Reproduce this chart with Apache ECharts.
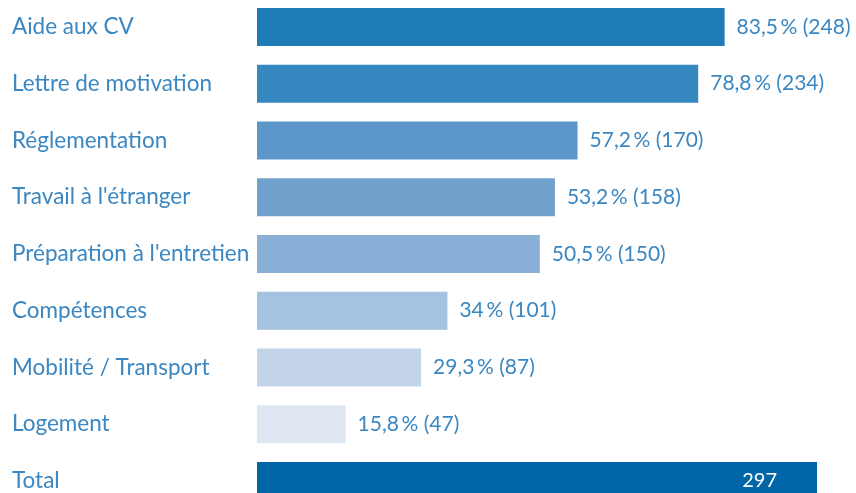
<!DOCTYPE html>
<html><head><meta charset="utf-8">
<script src="https://cdn.jsdelivr.net/npm/echarts@6/dist/echarts.min.js"></script>
<style>html,body{margin:0;padding:0;background:#fff}#c{width:856px;height:493px}</style>
</head><body><div id="c"></div>
<script>
const categories = ["Aide aux CV","Lettre de motivation","Réglementation","Travail à l'étranger","Préparation à l'entretien","Compétences","Mobilité / Transport","Logement","Total"];
const counts = [248,234,170,158,150,101,87,47,297];
const percents = ["83,5","78,8","57,2","53,2","50,5","34","29,3","15,8",null];
const colors = ["#1f7bb8","#3688c1","#5b98c9","#70a1cd","#8bb0d7","#a6c2e1","#c3d3e9","#dee7f1","#0066a8"];

const chart = echarts.init(document.getElementById('c'));
const FONT = 'Lato';
const data = counts.map((v,i)=>{
  const isTotal = percents[i] === null;
  return {
    value: v,
    itemStyle: {color: colors[i]},
    label: isTotal ? {show:true, position:'insideRight', distance:40, color:'#fff', fontSize:20, formatter: String(v)} :
      {show:true, position:'right', distance:12, color:'#3a87c2', fontSize:21, formatter: percents[i] + '\u2009% (' + v + ')'}
  };
});
chart.setOption({
  animation:false,
  grid:{left:257, right:39, top:-1.4, bottom:-16.35, containLabel:false, outerBoundsMode:'none'},
  xAxis:{type:'value', min:0, max:297, show:false},
  yAxis:{type:'category', data:categories, inverse:true,
    axisLine:{show:false}, axisTick:{show:false},
    axisLabel:{align:'left', margin:245, color:'#3a87c2', fontSize:22.5, fontFamily:FONT}},
  series:[{type:'bar', data:data, barWidth:38,
    label:{fontFamily:FONT}}]
});
</script></body></html>
